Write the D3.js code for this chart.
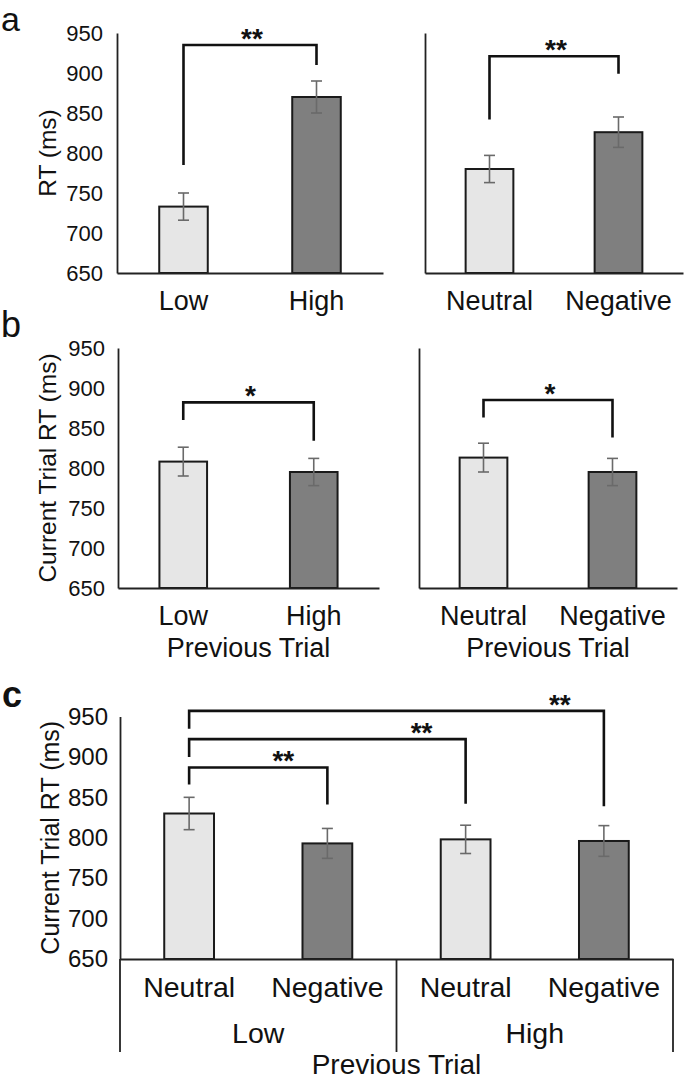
<!DOCTYPE html>
<html>
<head>
<meta charset="utf-8">
<script src="https://cdn.jsdelivr.net/npm/d3@7"></script>
<style>
  html, body { margin: 0; padding: 0; background: #fff; }
  svg { display: block; font-family: "Liberation Sans", Arial, Helvetica, sans-serif; }
</style>
</head>
<body>
<svg id="chart" width="685" height="1082"></svg>
<script>
// ---------------- DATA ----------------
const yTicks = [650, 700, 750, 800, 850, 900, 950];
const yDomain = [650, 950];

// Panel a: current trial
const aLoadCats = ["Low", "High"];
const aLoadMeans = [733, 870];
const aLoadErrs = [17, 20];
const aValCats = ["Neutral", "Negative"];
const aValMeans = [780, 826];
const aValErrs = [17, 19];

// Panel b: previous trial
const bLoadCats = ["Low", "High"];
const bLoadMeans = [808, 795];
const bLoadErrs = [18, 17];
const bValCats = ["Neutral", "Negative"];
const bValMeans = [813, 795];
const bValErrs = [18, 17];

// Panel c: previous trial load x valence
const cCats = ["Neutral", "Negative", "Neutral", "Negative"];
const cGroups = ["Low", "High"];
const cMeans = [830, 793, 798, 796];
const cErrs = [20, 18.5, 17.5, 19];

// Significance brackets: [fromIndex, toIndex, level, leftEnd, rightEnd, label] in data units
const aLoadBrackets = [[0, 1, 935, 785, 910, "**"]];
const aValBrackets = [[0, 1, 921, 842, 899, "**"]];
const bLoadBrackets = [[0, 1, 882, 860, 834, "*"]];
const bValBrackets = [[0, 1, 885, 863, 838, "*"]];
const cBrackets = [
  [0, 1, 887, 866, 841, "**"],
  [0, 2, 922, 900, 842, "**"],
  [0, 3, 957, 935, 839, "**"]
];

const fills = ["#e6e6e6", "#7f7f7f"];
const svg = d3.select("#chart");

function panel(opt) {
  const g = svg.append("g");
  const x = d3.scaleBand()
    .domain(d3.range(opt.means.length))
    .range([opt.x0, opt.x1])
    .paddingInner(opt.pad)
    .paddingOuter(opt.pad / 2);
  const y = d3.scaleLinear().domain(yDomain).range([opt.yb, opt.yt]);

  // y axis
  const ya = d3.axisLeft(y).tickSizeInner(0).tickSizeOuter(0).tickPadding(opt.tickPad);
  if (opt.showTicks) ya.tickValues(yTicks).tickFormat(d3.format("d"));
  else ya.tickValues([]);
  const yg = g.append("g").attr("transform", `translate(${opt.x0},0)`).call(ya);
  yg.select(".domain").attr("stroke", "#222").attr("stroke-width", 1.8);
  yg.selectAll("text").attr("font-size", opt.tickFont).attr("fill", "#111")
    .attr("font-family", "Liberation Sans, Arial, sans-serif");

  // bars
  g.selectAll("rect.bar").data(opt.means).enter().append("rect")
    .attr("class", "bar")
    .attr("x", (d, i) => x(i))
    .attr("width", x.bandwidth())
    .attr("y", d => y(d))
    .attr("height", d => y(yDomain[0]) - y(d))
    .attr("fill", (d, i) => fills[i % 2])
    .attr("stroke", "#1a1a1a")
    .attr("stroke-width", 2);

  // error bars
  const eg = g.selectAll("g.err").data(opt.means).enter().append("g").attr("class", "err");
  const cx = i => x(i) + x.bandwidth() / 2;
  eg.append("line")
    .attr("x1", (d, i) => cx(i)).attr("x2", (d, i) => cx(i))
    .attr("y1", (d, i) => y(d + opt.errs[i])).attr("y2", (d, i) => y(d - opt.errs[i]))
    .attr("stroke", "#6a6a6a").attr("stroke-width", 1.6);
  [1, -1].forEach(s => {
    eg.append("line")
      .attr("x1", (d, i) => cx(i) - 5.5).attr("x2", (d, i) => cx(i) + 5.5)
      .attr("y1", (d, i) => y(d + s * opt.errs[i])).attr("y2", (d, i) => y(d + s * opt.errs[i]))
      .attr("stroke", "#6a6a6a").attr("stroke-width", 1.6);
  });

  // x axis
  const xa = d3.axisBottom(x).tickSizeInner(0).tickSizeOuter(0).tickPadding(opt.catPad)
    .tickFormat(i => opt.cats[i]);
  const xg = g.append("g").attr("transform", `translate(0,${opt.yb})`).call(xa);
  xg.select(".domain").attr("stroke", "#222").attr("stroke-width", 1.8);
  xg.selectAll("text").attr("font-size", opt.catFont).attr("fill", "#111")
    .attr("font-family", "Liberation Sans, Arial, sans-serif");

  // brackets
  opt.brackets.forEach(b => {
    const [i1, i2, lev, le, re, lab] = b;
    const x1 = cx(i1), x2 = cx(i2);
    g.append("path")
      .attr("d", `M${x1},${y(le)}V${y(lev)}H${x2}V${y(re)}`)
      .attr("fill", "none").attr("stroke", "#111").attr("stroke-width", 2.6);
    const sx = opt.starRight ? x2 - opt.starRight : (x1 + x2) / 2 + 2;
    g.append("text")
      .attr("x", sx).attr("y", y(lev) + 3)
      .attr("text-anchor", "middle")
      .attr("font-size", 28).attr("font-weight", "bold").attr("fill", "#111")
      .text(lab);
  });

  // y label
  if (opt.ylabel) {
    g.append("text")
      .attr("transform", `translate(${opt.ylabX},${(opt.yt + opt.yb) / 2}) rotate(-90)`)
      .attr("text-anchor", "middle").attr("dominant-baseline", "central")
      .attr("font-size", opt.ylabFont).attr("fill", "#111")
      .text(opt.ylabel);
  }
  if (opt.xlabel) {
    g.append("text")
      .attr("x", (opt.x0 + opt.x1) / 2).attr("y", opt.xlabY)
      .attr("text-anchor", "middle").attr("font-size", opt.catFont).attr("fill", "#111")
      .text(opt.xlabel);
  }
  return { g, x, y };
}

// Panel a
panel({ means: aLoadMeans, errs: aLoadErrs, cats: aLoadCats, brackets: aLoadBrackets,
  x0: 117, x1: 383, yt: 33, yb: 273, pad: 0.635, showTicks: true, tickPad: 14,
  tickFont: 22, catFont: 27, catPad: 18, ylabel: "RT (ms)", ylabX: 47, ylabFont: 24.5 });
panel({ means: aValMeans, errs: aValErrs, cats: aValCats, brackets: aValBrackets,
  x0: 425, x1: 683, yt: 33, yb: 273, pad: 0.63, showTicks: false, tickPad: 14,
  tickFont: 22, catFont: 27, catPad: 18 });

// Panel b
panel({ means: bLoadMeans, errs: bLoadErrs, cats: bLoadCats, brackets: bLoadBrackets,
  x0: 118, x1: 379, yt: 348, yb: 588, pad: 0.635, showTicks: true, tickPad: 13,
  tickFont: 22, catFont: 27, catPad: 18, ylabel: "Current Trial RT (ms)", ylabX: 47, ylabFont: 24.5,
  xlabel: "Previous Trial", xlabY: 657 });
panel({ means: bValMeans, errs: bValErrs, cats: bValCats, brackets: bValBrackets,
  x0: 419, x1: 677, yt: 348, yb: 588, pad: 0.63, showTicks: false, tickPad: 14,
  tickFont: 22, catFont: 27, catPad: 18, xlabel: "Previous Trial", xlabY: 657 });

// Panel c
const pc = panel({ means: cMeans, errs: cErrs, cats: cCats, brackets: cBrackets,
  x0: 120, x1: 673, yt: 716.5, yb: 959, pad: 0.64, showTicks: true, tickPad: 12,
  tickFont: 24, catFont: 28.5, catPad: 18, ylabel: "Current Trial RT (ms)", ylabX: 50, ylabFont: 25,
  starRight: 44 });

// Panel c group axis (Low / High) with separators
const step = pc.x.step();
const groupBounds = d3.range(cGroups.length + 1).map(k => 120 + k * 2 * step);
pc.g.selectAll("line.sep").data(groupBounds).enter().append("line")
  .attr("class", "sep")
  .attr("x1", d => d).attr("x2", d => d)
  .attr("y1", 959).attr("y2", 1052)
  .attr("stroke", "#222").attr("stroke-width", 1.8);
pc.g.selectAll("text.grp").data(cGroups).enter().append("text")
  .attr("class", "grp")
  .attr("x", (d, k) => (groupBounds[k] + groupBounds[k + 1]) / 2)
  .attr("y", 1043)
  .attr("text-anchor", "middle").attr("font-size", 28.5).attr("fill", "#111")
  .text(d => d);
pc.g.append("text")
  .attr("x", (120 + 673) / 2).attr("y", 1074)
  .attr("text-anchor", "middle").attr("font-size", 28).attr("fill", "#111")
  .text("Previous Trial");

// Panel letters
svg.append("text").attr("x", 1).attr("y", 31).attr("font-size", 34).attr("fill", "#111").text("a");
svg.append("text").attr("x", 1).attr("y", 337).attr("font-size", 36).attr("fill", "#111").text("b");
svg.append("text").attr("x", 2).attr("y", 707).attr("font-size", 36).attr("font-weight", "bold").attr("fill", "#111").text("c");
</script>
</body>
</html>
